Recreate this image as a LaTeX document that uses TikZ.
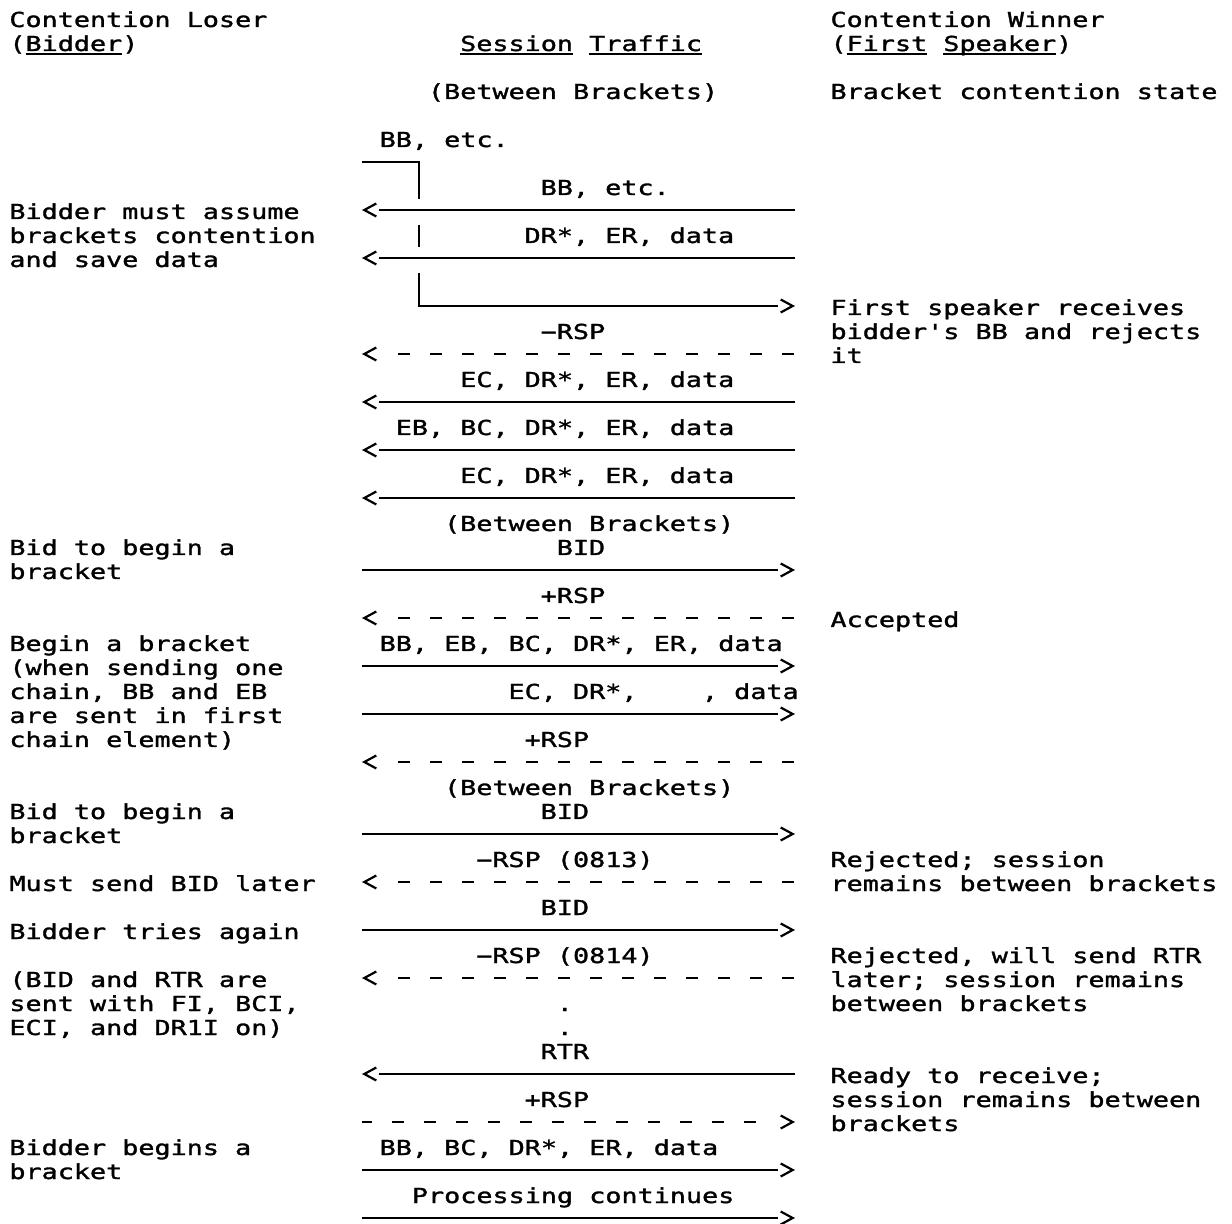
\documentclass[tikz,border=0pt]{standalone}
\usepackage{fontspec}
\usetikzlibrary{arrows.meta}
\newfontfamily\ibmfont[FakeStretch=1.3,FakeBold=1.5]{DejaVu Sans Mono}
\newsavebox\ulbox
\newcommand{\undr}[1]{\sbox\ulbox{#1}\rlap{\rule[-2pt]{\wd\ulbox}{0.8pt}}\usebox\ulbox}

\begin{document}
\begin{tikzpicture}[
    x=0.5pt, y=-0.5pt,
    line cap=butt,
    >={Straight Barb[length=6pt,width=6.5pt]},
    lbl/.style={anchor=base west, inner sep=0pt, align=left, font=\ibmfont\fontsize{10.3}{12}\selectfont},
    msg/.style={draw=black, line width=1.1pt, dash pattern=on 0pt off 7pt on 400pt off 0pt},
    rsp/.style={msg, dash pattern=on 0pt off 16.5pt on 6pt off 10pt on 6pt off 10pt on 6pt off 10pt
      on 6pt off 10pt on 6pt off 10pt on 6pt off 10pt on 6pt off 10pt on 6pt off 10pt on 6pt off 10pt
      on 6pt off 10pt on 6pt off 10pt on 6pt off 10pt on 6pt off 10pt},
    rspr/.style={msg, dash pattern=on 0pt off 18pt on 6pt off 10pt on 6pt off 10pt on 6pt off 10pt
      on 6pt off 10pt on 6pt off 10pt on 6pt off 10pt on 6pt off 10pt on 6pt off 10pt on 6pt off 10pt
      on 6pt off 10pt on 6pt off 10pt on 6pt off 10pt on 6pt off 10pt}
]
\path[use as bounding box, fill=white] (0,0) rectangle (1232,1224);

\foreach \r in {9,11,13,15,17,19,21,24,26,28,30,32,35,37,39,41,45,47,49,51} {
  \coordinate (L\r) at (362,{24*\r-6});
  \coordinate (R\r) at (795,{24*\r-6});
}
\coordinate (bbin) at (362,162);
\coordinate (bbcorner) at (419,199);
\coordinate (bbmidA) at (419,225);
\coordinate (bbmidB) at (419,247);
\coordinate (bbturn) at (419,273);

\draw[line width=1.1pt] (bbin) -| (bbcorner);
\draw[line width=1.1pt] (bbmidA) -- (bbmidB);
\draw[msg,<-] (R13) -| (bbturn);

\foreach \r in {9,11,17,19,21,45}
  \draw[msg,<-] (L\r) -- (R\r);
\foreach \r in {24,28,30,35,39,49,51}
  \draw[msg,<-] (R\r) -- (L\r);
\foreach \r in {15,26,32,37,41}
  \draw[rsp,<-] (L\r) -- (R\r);
\draw[rspr,<-] (R47) -- (L47);

\node[lbl] (loser)  at (9,51)   {Contention Loser\\(\undr{Bidder})};
\node[lbl] (assume) at (9,267)  {Bidder must assume\\brackets contention\\and save data};
\node[lbl] (bid1)   at (9,579)  {Bid to begin a\\bracket};
\node[lbl] (begin)  at (9,747)  {Begin a bracket\\(when sending one\\chain, BB and EB\\are sent in first\\chain element)};
\node[lbl] (bid2)   at (9,843)  {Bid to begin a\\bracket};
\node[lbl] (later)  at (9,891)  {Must send BID later};
\node[lbl] (again)  at (9,939)  {Bidder tries again};
\node[lbl] (note)   at (9,1035) {(BID and RTR are\\sent with FI, BCI,\\ECI, and DR1I on)};
\node[lbl] (begins) at (9,1179) {Bidder begins a\\bracket};

\node[lbl] (traffic)  at (459.8,51)   {\undr{Session} \undr{Traffic}};
\node[lbl] (between1) at (427.6,99)   {(Between Brackets)};
\node[lbl] (bbsend)   at (379.3,147)  {BB, etc.};
\node[lbl] (bbrecv)   at (540.3,195)  {BB, etc.};
\node[lbl] (chain1)   at (524.2,243)  {DR*, ER, data};
\node[lbl] (nrsp1)    at (540.3,339)  {−RSP};
\node[lbl] (chain2)   at (459.8,387)  {EC, DR*, ER, data};
\node[lbl] (chain3)   at (395.4,435)  {EB, BC, DR*, ER, data};
\node[lbl] (chain4)   at (459.8,483)  {EC, DR*, ER, data};
\node[lbl] (between2) at (443.7,531)  {(Between Brackets)};
\node[lbl] (bidA)     at (556.4,555)  {BID};
\node[lbl] (prsp1)    at (540.3,603)  {+RSP};
\node[lbl] (send1)    at (379.3,651)  {BB, EB, BC, DR*, ER, data};
\node[lbl] (send2)    at (508.1,699)  {EC, DR*,\ \ \ \ , data};
\node[lbl] (prsp2)    at (524.2,747)  {+RSP};
\node[lbl] (between3) at (443.7,795)  {(Between Brackets)};
\node[lbl] (bidB)     at (540.3,819)  {BID};
\node[lbl] (nrsp2)    at (475.9,867)  {−RSP (0813)};
\node[lbl] (bidC)     at (540.3,915)  {BID};
\node[lbl] (nrsp3)    at (475.9,963)  {−RSP (0814)};
\node[lbl] (dotA)     at (556.4,1011) {.};
\node[lbl] (dotB)     at (556.4,1035) {.};
\node[lbl] (rtr)      at (540.3,1059) {RTR};
\node[lbl] (prsp3)    at (524.2,1107) {+RSP};
\node[lbl] (send3)    at (379.3,1155) {BB, BC, DR*, ER, data};
\node[lbl] (cont)     at (411.5,1203) {Processing continues};

\node[lbl] (winner) at (830.1,51)   {Contention Winner\\(\undr{First} \undr{Speaker})};
\node[lbl] (state)  at (830.1,99)   {Bracket contention state};
\node[lbl] (reject) at (830.1,363)  {First speaker receives\\bidder's BB and rejects\\it};
\node[lbl] (accept) at (830.1,627)  {Accepted};
\node[lbl] (rej1)   at (830.1,891)  {Rejected; session\\remains between brackets};
\node[lbl] (rej2)   at (830.1,1011) {Rejected, will send RTR\\later; session remains\\between brackets};
\node[lbl] (ready)  at (830.1,1131) {Ready to receive;\\session remains between\\brackets};
\end{tikzpicture}
\end{document}
